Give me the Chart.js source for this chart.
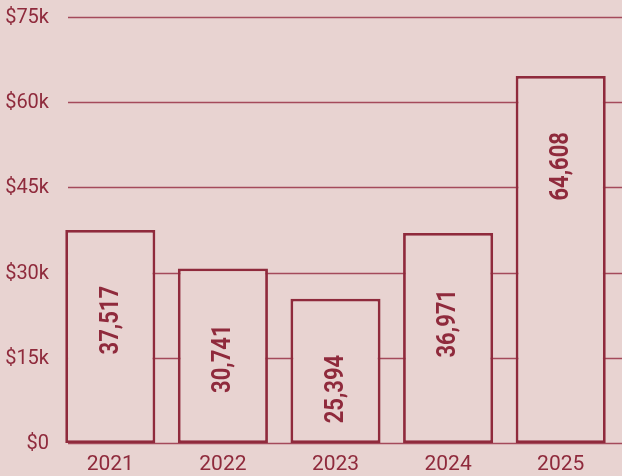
<!DOCTYPE html>
<html><head><meta charset="utf-8">
<style>html,body{margin:0;padding:0;background:#e8d3d1;}#wrap{width:622px;height:476px;}</style>
<script src="https://cdn.jsdelivr.net/npm/chart.js@4/dist/chart.umd.min.js"></script>
</head><body><div id="wrap"><canvas id="c" width="622" height="476"></canvas></div>
<script>
const categories = ['2021','2022','2023','2024','2025'];
const values = [37517, 30741, 25394, 36971, 64608];
const yTicks = [0, 15000, 30000, 45000, 60000, 75000];
const tickLabels = ['$0','$15k','$30k','$45k','$60k','$75k'];

const BG = '#e8d3d1';
const RED = '#8f2a3c';
const GRID = '#a44a5b';

const gridPlugin = {
  id: 'grid',
  beforeDatasetsDraw(chart) {
    const ctx = chart.ctx, y = chart.scales.y;
    ctx.save();
    ctx.strokeStyle = GRID; ctx.lineWidth = 1.3;
    yTicks.forEach(v => {
      const py = Math.round(y.getPixelForValue(v)) + 0.5;
      ctx.beginPath(); ctx.moveTo(68, py); ctx.lineTo(chart.width, py); ctx.stroke();
    });
    ctx.restore();
  }
};
const labelPlugin = {
  id: 'labels',
  afterDatasetsDraw(chart) {
    const ctx = chart.ctx;
    const meta = chart.getDatasetMeta(0);
    ctx.save();
    ctx.fillStyle = RED;
    ctx.font = 'bold 25px Roboto';
    ctx.textAlign = 'right';
    ctx.textBaseline = 'middle';
    meta.data.forEach((bar, i) => {
      ctx.save();
      ctx.translate(bar.x + 1, bar.y + 56);
      ctx.rotate(-Math.PI / 2);
      ctx.scale(0.88, 1);
      ctx.fillText(values[i].toLocaleString('en-US'), 0, 0);
      ctx.restore();
    });
    ctx.restore();
  }
};

new Chart(document.getElementById('c'), {
  type: 'bar',
  data: { labels: categories, datasets: [{
    data: values, backgroundColor: BG, borderColor: RED, borderWidth: 2.8,
    borderSkipped: false, barPercentage: 0.8, categoryPercentage: 1
  }]},
  options: {
    responsive: false, animation: false,
    layout: { padding: { top: 17, right: 5, left: 0, bottom: 0 } },
    plugins: { legend: { display: false }, tooltip: { enabled: false } },
    scales: {
      x: {
        grid: { display: false }, border: { display: false },
        ticks: { color: RED, font: { family: 'Roboto', size: 21 }, padding: 1 },
        afterFit(s) { s.height = 33; }
      },
      y: {
        min: 0, max: 75000,
        afterBuildTicks(s) { s.ticks = yTicks.map(v => ({ value: v })); },
        grid: { display: false }, border: { display: false },
        ticks: { color: RED, font: { family: 'Roboto', size: 20 }, padding: -3,
          labelOffset: 1,
          callback: (v) => tickLabels[yTicks.indexOf(v)] },
        afterFit(s) { s.width = 54; }
      }
    }
  },
  plugins: [gridPlugin, labelPlugin]
});
</script></body></html>
